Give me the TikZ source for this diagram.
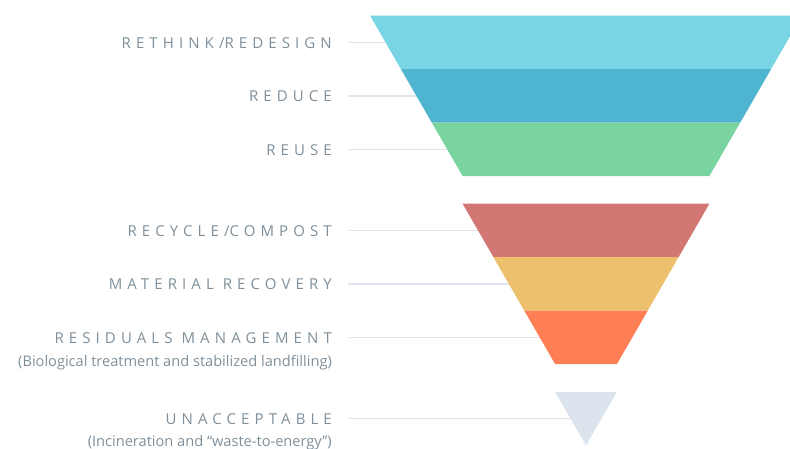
\documentclass[tikz,border=0pt]{standalone}
\usepackage{fontspec}
\setmainfont{Open Sans}
\newfontfamily\trackfont[LetterSpace=34]{Open Sans}
\usetikzlibrary{positioning}

\definecolor{tierA}{HTML}{79D4E3}
\definecolor{tierB}{HTML}{4EB4CF}
\definecolor{tierC}{HTML}{79D49F}
\definecolor{tierD}{HTML}{D37775}
\definecolor{tierE}{HTML}{EDC06E}
\definecolor{tierF}{HTML}{FE7F55}
\definecolor{tierG}{HTML}{DBE3EC}
\definecolor{labelgray}{HTML}{7E8F9B}
\definecolor{guidegray}{HTML}{DFE5EE}

\begin{document}
\begin{tikzpicture}
    [x=1pt,y=-1pt,
     lbl/.style={anchor=base east,inner sep=0pt,text=labelgray,
       font=\trackfont\fontsize{15}{17}\selectfont},
     sub/.style={anchor=base east,inner sep=0pt,text=labelgray,
       font=\fontsize{14.6}{16}\selectfont},
     guide/.style={draw=guidegray,line width=1.5pt}]
  \useasboundingbox (0,0) rectangle (790,448);
  % labels and guide lines
  \foreach \n/\txt/\y in {rethink/RETHINK\slash REDESIGN/42.25,
      reduce/REDUCE/95.75, reuse/REUSE/149.25,
      recycle/RECYCLE\slash COMPOST/230.45, recovery/MATERIAL RECOVERY/283.95,
      residuals/RESIDUALS MANAGEMENT/337.45, unacceptable/UNACCEPTABLE/418.6}
  {
    \node[lbl] (\n) at (332,\y+5.8) {\txt};
    \coordinate (\n-c) at (586,\y);
    \draw[guide] (\n-c -| 348,0) -- (\n-c);
  }
  \node[sub] (residuals-note) at ([yshift=-23.3pt]residuals.base east)
    {(Biological treatment and stabilized landfilling)};
  \node[sub] (unacceptable-note) at ([yshift=-21.7pt]unacceptable.base east)
    {(Incineration and “waste-to-energy”)};
  % funnel
  \foreach \col/\yt/\w in {tierA/15.5/216, tierB/69/185.14, tierC/122.5/154.28,
      tierD/203.7/123.42, tierE/257.2/92.56, tierF/310.7/61.7}
    \fill[\col] (586-\w,\yt) -- (586+\w,\yt) -- (586+\w-30.86,\yt+53.5)
      -- (586-\w+30.86,\yt+53.5) -- cycle;
  \fill[tierG] (555.1,391.9) -- (616.9,391.9) -- (586,445.4) -- cycle;
\end{tikzpicture}
\end{document}
